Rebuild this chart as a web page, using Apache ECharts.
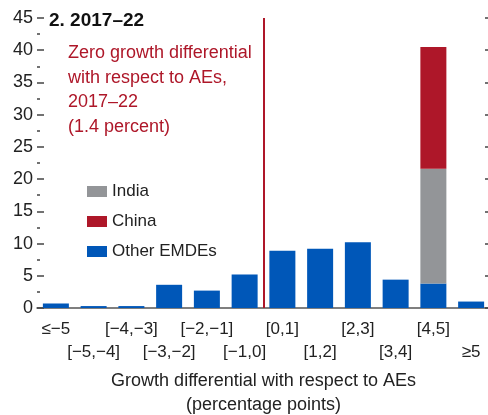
<!DOCTYPE html>
<html>
<head>
<meta charset="utf-8">
<script src="https://cdn.jsdelivr.net/npm/echarts@6/dist/echarts.min.js"></script>
<style>
  html, body { margin: 0; padding: 0; background: #fff; }
  #chart { width: 488px; height: 415px; }
</style>
</head>
<body>
<div id="chart"></div>
<script>
const categories = ['≤−5', '[−5,−4]', '[−4,−3]', '[−3,−2]', '[−2,−1]', '[−1,0]', '[0,1]', '[1,2]', '[2,3]', '[3,4]', '[4,5]', '≥5']
const otherEMDEs = [0.7, 0.3, 0.3, 3.6, 2.7, 5.2, 8.9, 9.2, 10.2, 4.4, 3.8, 1.0]
const india = [0, 0, 0, 0, 0, 0, 0, 0, 0, 0, 17.8, 0]
const china = [0, 0, 0, 0, 0, 0, 0, 0, 0, 0, 18.9, 0]
const zeroLine = 0

const font = '"Liberation Sans Narrow", "Liberation Sans", sans-serif'
const red = '#AE1729'

const chart = echarts.init(document.getElementById('chart'))
chart.setOption({
    animation: false,
    textStyle: { fontFamily: font },
    title: {
        text: '2. 2017–22',
        left: 44,
        top: 6,
        textStyle: { fontFamily: font, fontWeight: 'bold', fontSize: 19, color: '#111' }
    },
    legend: {
        data: ['India', 'China', 'Other EMDEs'],
        orient: 'vertical',
        left: 82,
        top: 178,
        itemWidth: 20,
        itemHeight: 11,
        itemGap: 13,
        icon: 'rect',
        textStyle: { fontFamily: font, fontSize: 17, color: '#222' }
    },
    grid: { left: 37, width: 453, top: 18, bottom: 107, outerBoundsMode: 'none', containLabel: false },
    xAxis: [{
        type: 'category',
        data: categories,
        axisLine: { lineStyle: { color: '#555', width: 1.5 } },
        axisTick: { show: false },
        axisLabel: {
            interval: 0,
            margin: 10,
            fontSize: 17,
            color: '#222',
            lineHeight: 23,
            formatter: (v, i) => i % 2 ? '\n' + v : v
        },
        name: 'Growth differential with respect to AEs\n(percentage points)',
        nameLocation: 'middle',
        nameGap: 56,
        nameTextStyle: { fontFamily: font, fontSize: 18, color: '#222', lineHeight: 24 }
    }, {
        type: 'value',
        min: -6,
        max: 6,
        show: false
    }],
    yAxis: [{
        type: 'value',
        min: 0,
        max: 45,
        interval: 5,
        axisLine: { show: true, onZero: false, lineStyle: { color: 'rgba(0,0,0,0)' } },
        axisTick: { show: true, inside: true, length: 7, lineStyle: { color: '#444', width: 1.5 } },
        minorTick: { show: true, splitNumber: 2, length: 3, lineStyle: { color: '#444', width: 1.5 } },
        axisLabel: { margin: 4, fontSize: 18, color: '#222' },
        splitLine: { show: false }
    }, {
        type: 'value',
        min: 0,
        max: 45,
        interval: 5,
        position: 'right',
        axisLine: { show: true, onZero: false, lineStyle: { color: 'rgba(0,0,0,0)' } },
        axisTick: { show: true, inside: true, length: 5, lineStyle: { color: '#444', width: 1.5 } },
        axisLabel: { show: false },
        splitLine: { show: false }
    }],
    series: [
        {
            name: 'Other EMDEs', type: 'bar', stack: 'a', data: otherEMDEs,
            barWidth: 26, itemStyle: { color: '#0057B8' }
        },
        {
            name: 'India', type: 'bar', stack: 'a', data: india,
            barWidth: 26, itemStyle: { color: '#939598' }
        },
        {
            name: 'China', type: 'bar', stack: 'a', data: china,
            barWidth: 26, itemStyle: { color: red }
        },
        {
            name: 'zero', type: 'line', xAxisIndex: 1, yAxisIndex: 0, data: [],
            markLine: {
                silent: true,
                symbol: 'none',
                label: { show: false },
                lineStyle: { color: red, width: 2, type: 'solid' },
                data: [{ xAxis: zeroLine }]
            }
        }
    ],
    graphic: [{
        type: 'text',
        left: 68,
        top: 41,
        style: {
            text: 'Zero growth differential\nwith respect to AEs,\n2017–22\n(1.4 percent)',
            font: '18px ' + font,
            fill: red,
            lineHeight: 24.5
        }
    }]
})
</script>
</body>
</html>
